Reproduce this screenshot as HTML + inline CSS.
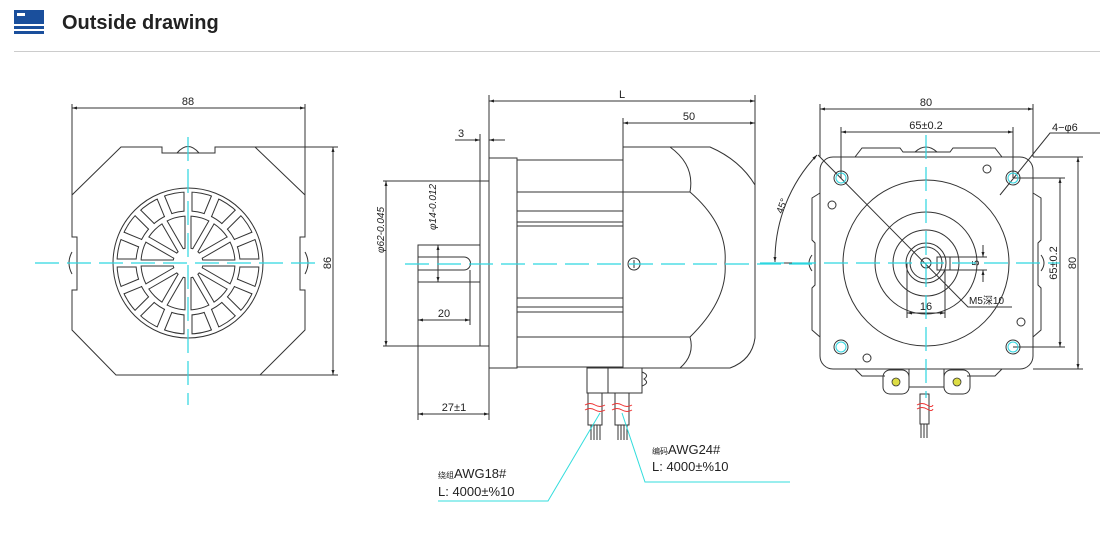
<!DOCTYPE html>
<html><head><meta charset="utf-8"><style>
html,body{margin:0;padding:0;background:#fff;width:1114px;height:548px;overflow:hidden}
svg{display:block}
text{font-family:"Liberation Sans","Noto Sans CJK SC",sans-serif;fill:#222}
</style></head><body>
<svg width="1114" height="548" viewBox="0 0 1114 548" xmlns="http://www.w3.org/2000/svg">
<defs>
<marker id="a" viewBox="0 0 10 10" refX="10" refY="5" markerWidth="7" markerHeight="5" orient="auto-start-reverse"><path d="M0,2 L10,5 L0,8 z" fill="#222"/></marker>
</defs>
<!-- header -->
<rect x="14" y="10" width="30" height="14" fill="#1a4f9c"/>
<rect x="17" y="13" width="8" height="3" fill="#fff"/>
<rect x="14" y="26" width="30" height="3" fill="#1a4f9c"/>
<rect x="14" y="31" width="30" height="3" fill="#1a4f9c"/>
<text x="62" y="29" font-size="20" font-weight="bold" style="fill:#222">Outside drawing</text>
<rect x="14" y="51" width="1086" height="1" fill="#ccc"/>

<g stroke="#333" stroke-width="1" fill="none">
<!-- LEFT VIEW -->
<line x1="72" y1="104" x2="72" y2="200"/><line x1="305" y1="104" x2="305" y2="200"/>
<line x1="72" y1="108" x2="305" y2="108" marker-start="url(#a)" marker-end="url(#a)"/>
<path d="M121,147 L162,147 L162,153 L215,153 L215,147 L255,147 L305,195 L305,237 L300,237 L300,290 L305,290 L305,330 L260,375 L116,375 L72,330 L72,290 L77,290 L77,237 L72,237 L72,195 Z"/>
<path d="M177,153 Q188,140 199,153"/>
<path d="M72,252 Q66,263 72,274"/><path d="M305,252 Q311,263 305,274"/>
<line x1="255" y1="147" x2="338" y2="147"/><line x1="260" y1="375" x2="338" y2="375"/>
<line x1="333" y1="147" x2="333" y2="375" marker-start="url(#a)" marker-end="url(#a)"/>
<circle cx="188" cy="263" r="75"/><circle cx="188" cy="263" r="71"/>
<circle cx="188" cy="263" r="52"/><circle cx="188" cy="263" r="47"/>
<circle cx="188" cy="263" r="15"/>
</g>
<defs>
<g id="sp1"><rect x="184.5" y="191" width="7" height="21.5" fill="#fff" stroke="none"/><line x1="184" y1="192" x2="184" y2="211.5" stroke="#333"/><line x1="192" y1="192" x2="192" y2="211.5" stroke="#333"/></g>
<g id="sp2"><rect x="185.5" y="215" width="5" height="34.5" fill="#fff" stroke="none"/><line x1="185" y1="216.2" x2="185" y2="248.3" stroke="#333"/><line x1="191" y1="216.2" x2="191" y2="248.3" stroke="#333"/></g>
</defs>
<g>
<use href="#sp1"/><use href="#sp1" transform="rotate(22.5 188 263)"/><use href="#sp1" transform="rotate(45 188 263)"/><use href="#sp1" transform="rotate(67.5 188 263)"/><use href="#sp1" transform="rotate(90 188 263)"/><use href="#sp1" transform="rotate(112.5 188 263)"/><use href="#sp1" transform="rotate(135 188 263)"/><use href="#sp1" transform="rotate(157.5 188 263)"/><use href="#sp1" transform="rotate(180 188 263)"/><use href="#sp1" transform="rotate(202.5 188 263)"/><use href="#sp1" transform="rotate(225 188 263)"/><use href="#sp1" transform="rotate(247.5 188 263)"/><use href="#sp1" transform="rotate(270 188 263)"/><use href="#sp1" transform="rotate(292.5 188 263)"/><use href="#sp1" transform="rotate(315 188 263)"/><use href="#sp1" transform="rotate(337.5 188 263)"/>
<use href="#sp2"/><use href="#sp2" transform="rotate(30 188 263)"/><use href="#sp2" transform="rotate(60 188 263)"/><use href="#sp2" transform="rotate(90 188 263)"/><use href="#sp2" transform="rotate(120 188 263)"/><use href="#sp2" transform="rotate(150 188 263)"/><use href="#sp2" transform="rotate(180 188 263)"/><use href="#sp2" transform="rotate(210 188 263)"/><use href="#sp2" transform="rotate(240 188 263)"/><use href="#sp2" transform="rotate(270 188 263)"/><use href="#sp2" transform="rotate(300 188 263)"/><use href="#sp2" transform="rotate(330 188 263)"/>
</g>
<text x="188" y="105" font-size="11" text-anchor="middle">88</text>
<text transform="translate(331 263) rotate(-90)" font-size="11" text-anchor="middle">86</text>

<!-- MIDDLE VIEW -->
<g stroke="#333" stroke-width="1" fill="none">
<line x1="489" y1="95" x2="489" y2="158"/><line x1="755" y1="95" x2="755" y2="185"/><line x1="623" y1="118" x2="623" y2="147"/>
<line x1="489" y1="101" x2="755" y2="101" marker-start="url(#a)" marker-end="url(#a)"/>
<line x1="623" y1="123" x2="755" y2="123" marker-start="url(#a)" marker-end="url(#a)"/>
<line x1="455" y1="140" x2="480" y2="140" marker-end="url(#a)"/><line x1="505" y1="140" x2="489" y2="140" marker-end="url(#a)"/>
<line x1="480" y1="134" x2="480" y2="181"/>
<rect x="480" y="181" width="9" height="165"/>
<rect x="489" y="158" width="28" height="210"/>
<rect x="517" y="160" width="106" height="207"/>
<line x1="517" y1="192" x2="623" y2="192"/><line x1="517" y1="211" x2="623" y2="211"/><line x1="517" y1="222" x2="623" y2="222"/><line x1="517" y1="226" x2="623" y2="226"/>
<line x1="517" y1="298" x2="623" y2="298"/><line x1="517" y1="307" x2="623" y2="307"/><line x1="517" y1="312" x2="623" y2="312"/><line x1="517" y1="337" x2="623" y2="337"/>
<path d="M623,147 L710,147 Q740,160 755,185 L755,338 Q752,360 730,368 L623,368 Z"/>
<path d="M670,147 Q695,165 690,192 L623,192"/>
<path d="M690,192 Q728,225 725,263 Q728,300 690,337 L623,337"/>
<path d="M690,337 Q695,355 680,368"/>
<circle cx="634" cy="264" r="6"/><line x1="630" y1="264" x2="638" y2="264"/><line x1="634" y1="260" x2="634" y2="268"/>
<rect x="418" y="245" width="62" height="37"/>
<path d="M418,257 L464,257 A6.5,6.5 0 0 1 464,270 L418,270"/>
<line x1="438" y1="245" x2="438" y2="282" marker-start="url(#a)" marker-end="url(#a)"/>
<line x1="383" y1="181" x2="480" y2="181"/><line x1="383" y1="346" x2="480" y2="346"/>
<line x1="386" y1="181" x2="386" y2="346" marker-start="url(#a)" marker-end="url(#a)"/>
<line x1="418" y1="282" x2="418" y2="420"/><line x1="470" y1="270" x2="470" y2="325"/>
<line x1="418" y1="320" x2="470" y2="320" marker-start="url(#a)" marker-end="url(#a)"/>
<line x1="489" y1="368" x2="489" y2="420"/>
<line x1="418" y1="414" x2="489" y2="414" marker-start="url(#a)" marker-end="url(#a)"/>
<rect x="587" y="368" width="55" height="25"/><line x1="608" y1="368" x2="608" y2="393"/>
<path d="M642,372 Q650,375 644,379 Q650,383 642,386"/>
<rect x="588" y="393" width="14" height="32"/><rect x="615" y="393" width="14" height="32"/>
<line x1="591" y1="425" x2="591" y2="440"/><line x1="594" y1="425" x2="594" y2="440"/><line x1="597" y1="425" x2="597" y2="440"/><line x1="600" y1="425" x2="600" y2="440"/>
<line x1="618" y1="425" x2="618" y2="440"/><line x1="621" y1="425" x2="621" y2="440"/><line x1="624" y1="425" x2="624" y2="440"/><line x1="627" y1="425" x2="627" y2="440"/>
<line x1="773" y1="263" x2="812" y2="263"/>
</g>
<g stroke="#e33" stroke-width="1" fill="none">
<path d="M585,405 q5,-3 10,0 t10,0"/><path d="M585,410 q5,-3 10,0 t10,0"/>
<path d="M612,405 q5,-3 10,0 t10,0"/><path d="M612,410 q5,-3 10,0 t10,0"/>
</g>
<text x="622" y="98" font-size="11" text-anchor="middle">L</text>
<text x="689" y="120" font-size="11" text-anchor="middle">50</text>
<text x="461" y="137" font-size="11" text-anchor="middle">3</text>
<text transform="translate(384 230) rotate(-90)" font-size="10" font-style="italic" text-anchor="middle">φ62-0.045</text>
<text transform="translate(436 207) rotate(-90)" font-size="10" font-style="italic" text-anchor="middle">φ14-0.012</text>
<text x="444" y="317" font-size="11" text-anchor="middle">20</text>
<text x="454" y="411" font-size="11" text-anchor="middle">27±1</text>
<text x="438" y="478" font-size="13"><tspan font-size="8">绕组</tspan>AWG18#</text>
<text x="438" y="496" font-size="13">L: 4000±%10</text>
<text x="652" y="454" font-size="13"><tspan font-size="8">编码</tspan>AWG24#</text>
<text x="652" y="471" font-size="13">L: 4000±%10</text>
<g stroke="#3dd" stroke-width="1" fill="none">
<polyline points="600,413 548,501 438,501"/>
<polyline points="622,413 645,482 790,482"/>
</g>

<!-- RIGHT VIEW -->
<g stroke="#333" stroke-width="1" fill="none">
<rect x="820" y="157" width="213" height="212" rx="13"/>
<polyline points="855,157 862,148 900,148 903,152 950,152 953,148 995,148 1002,157"/>
<path d="M915,152 Q926,142 937,152"/>
<polyline points="820,193 812,198 812,240 815,243 815,285 812,288 812,330 820,337"/>
<polyline points="1033,193 1041,198 1041,240 1038,243 1038,285 1041,288 1041,330 1033,337"/>
<path d="M812,255 Q806,263 812,271"/><path d="M1041,255 Q1047,263 1041,271"/>
<polyline points="855,369 862,376 885,376"/><polyline points="1002,369 995,376 967,376"/>
<circle cx="926" cy="263" r="83"/><circle cx="926" cy="263" r="51"/><circle cx="926" cy="263" r="33"/>
<circle cx="926" cy="263" r="20"/><circle cx="926" cy="263" r="16"/><circle cx="926" cy="263" r="5"/>
<rect x="937" y="257" width="13" height="13"/>
<circle cx="841" cy="178" r="7"/><circle cx="1013" cy="178" r="7"/><circle cx="841" cy="347" r="7"/><circle cx="1013" cy="347" r="7"/>
<circle cx="987" cy="169" r="4"/><circle cx="832" cy="205" r="4"/><circle cx="1021" cy="322" r="4"/><circle cx="867" cy="358" r="4"/>
<rect x="883" y="370" width="26" height="24" rx="7"/><rect x="944" y="370" width="26" height="24" rx="7"/>
<rect x="909" y="369" width="35" height="18"/>
<rect x="920" y="394" width="9" height="30"/>
<line x1="921" y1="424" x2="921" y2="438"/><line x1="924" y1="424" x2="924" y2="438"/><line x1="927" y1="424" x2="927" y2="438"/>
<line x1="820" y1="104" x2="820" y2="157"/><line x1="1033" y1="104" x2="1033" y2="157"/>
<line x1="820" y1="109" x2="1033" y2="109" marker-start="url(#a)" marker-end="url(#a)"/>
<line x1="841" y1="127" x2="841" y2="178"/><line x1="1013" y1="127" x2="1013" y2="178"/>
<line x1="841" y1="132" x2="1013" y2="132" marker-start="url(#a)" marker-end="url(#a)"/>
<line x1="1033" y1="157" x2="1083" y2="157"/><line x1="1033" y1="369" x2="1083" y2="369"/>
<line x1="1078" y1="157" x2="1078" y2="369" marker-start="url(#a)" marker-end="url(#a)"/>
<line x1="1013" y1="178" x2="1065" y2="178"/><line x1="1013" y1="347" x2="1065" y2="347"/>
<line x1="1060" y1="178" x2="1060" y2="347" marker-start="url(#a)" marker-end="url(#a)"/>
<polyline points="1000,195 1050,133 1100,133"/>
<line x1="950" y1="257" x2="987" y2="257"/><line x1="950" y1="270" x2="987" y2="270"/>
<line x1="983" y1="245" x2="983" y2="257" marker-end="url(#a)"/><line x1="983" y1="282" x2="983" y2="270" marker-end="url(#a)"/>
<line x1="907" y1="263" x2="907" y2="318"/><line x1="945" y1="270" x2="945" y2="318"/>
<line x1="907" y1="313" x2="945" y2="313" marker-start="url(#a)" marker-end="url(#a)"/>
<polyline points="818,155 968,307 1012,307"/>
<path d="M775,262 A153,153 0 0 1 817,155" marker-start="url(#a)" marker-end="url(#a)"/>
</g>
<g stroke="#e33" stroke-width="1" fill="none"><path d="M917,405 q5,-3 10,0 t6,0"/><path d="M917,409 q5,-3 10,0 t6,0"/></g>
<g fill="#dd4" stroke="#333" stroke-width="0.8"><circle cx="896" cy="382" r="4"/><circle cx="957" cy="382" r="4"/></g>
<text x="926" y="106" font-size="11" text-anchor="middle">80</text>
<text x="926" y="129" font-size="11" text-anchor="middle">65±0.2</text>
<text x="1052" y="131" font-size="11">4−φ6</text>
<text transform="translate(1076 263) rotate(-90)" font-size="11" text-anchor="middle">80</text>
<text transform="translate(1057 263) rotate(-90)" font-size="11" text-anchor="middle">65±0.2</text>
<text transform="translate(979 263) rotate(-90)" font-size="10" text-anchor="middle">5</text>
<text x="926" y="310" font-size="11" text-anchor="middle">16</text>
<text x="969" y="304" font-size="10">M5深10</text>
<text transform="translate(785 207) rotate(-70)" font-size="10" text-anchor="middle">45°</text>

<!-- center lines -->
<g stroke="#2dd6e0" stroke-width="1.2" fill="none" stroke-dasharray="24,8">
<line x1="35" y1="263" x2="315" y2="263"/><line x1="188" y1="137" x2="188" y2="405"/>
<line x1="405" y1="264" x2="812" y2="264"/>
<line x1="760" y1="263" x2="1060" y2="263"/><line x1="926" y1="135" x2="926" y2="398"/>
</g>
<g fill="none" stroke="#2dd6e0" stroke-width="1"><circle cx="841" cy="178" r="5"/><circle cx="1013" cy="178" r="5"/><circle cx="841" cy="347" r="5"/><circle cx="1013" cy="347" r="5"/></g>
</svg>
</body></html>
